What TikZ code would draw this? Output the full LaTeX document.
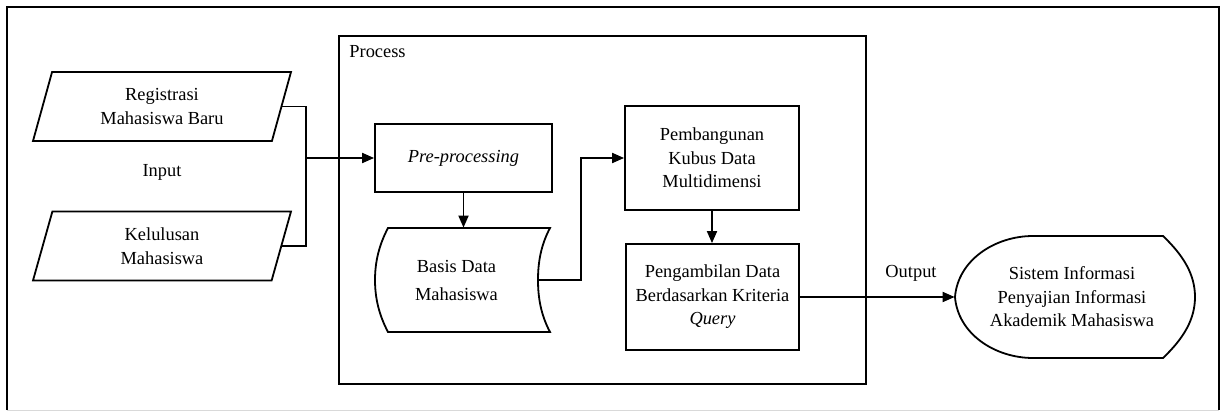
\documentclass[tikz,border=0pt]{standalone}
\usepackage{fontspec}
\setmainfont{Liberation Serif}
\usetikzlibrary{arrows.meta,shapes.geometric,calc}

\tikzset{
  ln/.style={line width=0.9pt},
  txt/.style={align=center, inner sep=0pt, font=\fontsize{9.2}{11.75}\selectfont},
  box/.style={txt, draw, ln},
  inbox/.style={box, trapezium, trapezium left angle=62, trapezium right angle=118,
    trapezium stretches body, minimum width=129pt, minimum height=34.5pt},
  arr/.style={ln, -{Triangle[length=6pt,width=5pt]}},
}

\begin{document}
\begin{tikzpicture}[x=0.5pt,y=-0.5pt]
\useasboundingbox (0,0) rectangle (1222,412);
\draw[ln] (7,410) -- (7,7) -- (1219,7) -- (1219,410);
\draw[gray!30] (7,410) -- (1219,410);

\node[inbox] (reg) at (162,106.5) {Registrasi\\Mahasiswa Baru};
\node[inbox] (kel) at (162,246) {Kelulusan\\Mahasiswa};
\node[txt] (inlbl) at (162,172) {Input};

\node[box, minimum width=263.5pt, minimum height=174pt] (procbox) at (602.5,210) {};
\node[txt, anchor=west] (proclbl) at (349,52) {Process};

\node[box, minimum width=88.5pt, minimum height=34pt] (pre) at (463.5,158) {\itshape Pre-processing};

\node[txt, minimum width=81.5pt, minimum height=52pt, font=\fontsize{9.2}{14}\selectfont] (bd) at (456.5,280) {Basis Data\\Mahasiswa};
\draw[ln] (388,228) -- (550,228) .. controls (541,245) and (538,262) .. (538,280)
  .. controls (538,298) and (541,315) .. (550,332) -- (388,332)
  .. controls (379,315) and (375,298) .. (375,280)
  .. controls (375,262) and (379,245) .. (388,228) -- cycle;

\node[box, minimum width=87pt, minimum height=52pt] (pb) at (712,158) {Pembangunan\\Kubus Data\\Multidimensi};
\node[box, minimum width=86.5pt, minimum height=53pt] (pq) at (712.5,297) {Pengambilan Data\\Berdasarkan Kriteria\\\textit{Query}};

\node[txt, minimum width=117pt, minimum height=61pt] (si) at (1072,297) {Sistem Informasi\\Penyajian Informasi\\Akademik Mahasiswa};
\draw[ln] (955,297) .. controls (958,260) and (995,236) .. (1033,236) -- (1163,236)
  .. controls (1184,256) and (1195,275) .. (1195,297)
  .. controls (1195,319) and (1184,338) .. (1163,358) -- (1033,358)
  .. controls (995,358) and (958,334) .. (955,297) -- cycle;
\node[txt] (outlbl) at (911,273) {Output};

\path (pre.west) ++(-68,0) coordinate (jn);
\draw[ln] (reg.east) -| (jn);
\draw[ln] (kel.east) -| (jn);
\draw[arr] (jn) -- (pre.west);
\draw[arr] (pre.south) -- (pre.south |- bd.north);
\draw[arr] (bd.east) -| ($(bd.east)!.5!(pb.west)$) |- (pb.west);
\draw[arr] (pb.south) -- (pb.south |- pq.north);
\draw[arr] (pq.east) -- (pq.east -| si.west);

\end{tikzpicture}
\end{document}
